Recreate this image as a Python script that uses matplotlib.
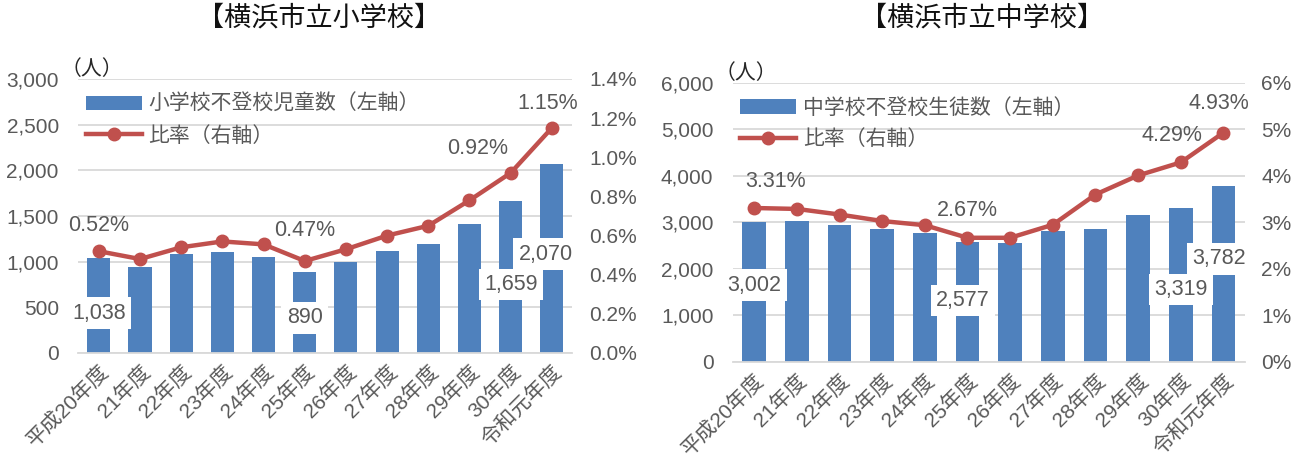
import matplotlib.pyplot as plt
import numpy as np

plt.rcParams['font.family'] = ['Liberation Sans', 'Noto Sans CJK JP', 'DejaVu Sans']

years = ["平成20年度", "21年度", "22年度", "23年度", "24年度", "25年度",
         "26年度", "27年度", "28年度", "29年度", "30年度", "令和元年度"]

# 小学校
sho_count = [1038, 945, 1081, 1103, 1055, 890, 993, 1121, 1190, 1410, 1659, 2070]
sho_rate = [0.52, 0.48, 0.54, 0.57, 0.555, 0.47, 0.53, 0.60, 0.65, 0.78, 0.92, 1.15]

# 中学校
chu_count = [3002, 3032, 2953, 2867, 2781, 2577, 2560, 2824, 2867, 3161, 3319, 3782]
chu_rate = [3.31, 3.29, 3.17, 3.03, 2.94, 2.67, 2.67, 2.95, 3.60, 4.01, 4.29, 4.93]

BAR = "#4F81BD"
LINE = "#C0504D"
TXT = "#595959"
GRID = "#D9D9D9"

fig = plt.figure(figsize=(13.04, 4.66), dpi=100)


def panel(rect, title, counts, rates, bar_label, ymax, ystep, rmax, rstep, rfmt,
          count_lbls, rate_lbls):
    ax = fig.add_axes(rect)
    x = np.arange(len(years))
    ax.bar(x, counts, width=0.56, color=BAR, zorder=2, label=bar_label)
    ax.set_xlim(-0.5, len(years) - 0.5)
    ax.set_ylim(0, ymax)
    ax.set_yticks(np.arange(0, ymax + 1, ystep))
    ax.set_yticklabels([f"{v:,}" for v in np.arange(0, ymax + 1, ystep)])
    ax.grid(axis='y', color=GRID, lw=1.3, zorder=0)
    for s in ['top', 'left', 'right']:
        ax.spines[s].set_visible(False)
    ax.spines['bottom'].set_color(GRID)
    ax.spines['bottom'].set_linewidth(1.3)
    ax.tick_params(axis='y', length=0, labelsize=15, colors=TXT, pad=14)
    ax.tick_params(axis='x', length=0, labelsize=15, colors=TXT, pad=6)
    ax.set_xticks(x)
    ax.set_xticklabels(years, rotation=45, ha='right', rotation_mode='anchor')

    ax2 = ax.twinx()
    ax2.plot(x, rates, color=LINE, lw=3.2, marker='o', ms=9, zorder=3,
             label="比率（右軸）")
    ax2.set_ylim(0, rmax)
    rt = np.arange(0, rmax + rstep / 2, rstep)
    ax2.set_yticks(rt)
    ax2.set_yticklabels([rfmt.format(v) for v in rt])
    for s in ['top', 'left', 'right', 'bottom']:
        ax2.spines[s].set_visible(False)
    ax2.tick_params(length=0, labelsize=15, colors=TXT, pad=12)

    # count labels with white boxes
    for i, dx, yfrac in count_lbls:
        ax.text(i + dx, ymax * yfrac, f"{counts[i]:,}", ha='center', va='center',
                fontsize=15.5, color=TXT, zorder=5,
                bbox=dict(boxstyle='square,pad=0.25', fc='white', ec='none'))
    for i, dx, dy in rate_lbls:
        ax2.text(i + dx, rates[i] + dy, f"{rates[i]:.2f}%", ha='center', va='bottom',
                 fontsize=15.5, color=TXT, zorder=5)

    h1, l1 = ax.get_legend_handles_labels()
    h2, l2 = ax2.get_legend_handles_labels()
    ax2.legend(h1 + h2, l1 + l2, loc='upper left', bbox_to_anchor=(-0.01, 0.99),
               frameon=False, fontsize=15, labelcolor=TXT, handlelength=2.7,
               handletextpad=0.3, labelspacing=0.55, borderaxespad=0.2)
    ax.text(-0.035, 1.0, "（人）", transform=ax.transAxes, ha='left', va='bottom',
            fontsize=15, color='#262626')
    fig.text(rect[0] + rect[2] / 2 - 0.005, 0.96, title, ha='center', va='center',
             fontsize=19.5, color='#111111')
    return ax, ax2


panel([0.06, 0.2425, 0.379, 0.588], "【横浜市立小学校】", sho_count, sho_rate,
      "小学校不登校児童数（左軸）", 3000, 500, 1.4, 0.2, "{:.1f}%",
      [(0, 0.0, 0.145), (5, 0.0, 0.128), (10, 0.0, 0.25), (11, -0.15, 0.36)],
      [(0, 0.0, 0.08), (5, 0.0, 0.1), (10, -0.8, 0.07), (11, -0.1, 0.07)])

panel([0.562, 0.2232, 0.3926, 0.599], "【横浜市立中学校】", chu_count, chu_rate,
      "中学校不登校生徒数（左軸）", 6000, 1000, 6, 1, "{:.0f}%",
      [(0, 0.0, 0.275), (5, -0.1, 0.22), (10, 0.0, 0.26), (11, -0.1, 0.37)],
      [(0, 0.5, 0.35), (5, 0.0, 0.35), (10, -0.2, 0.35), (11, -0.1, 0.4)])

fig.savefig("out.png", dpi=100)
